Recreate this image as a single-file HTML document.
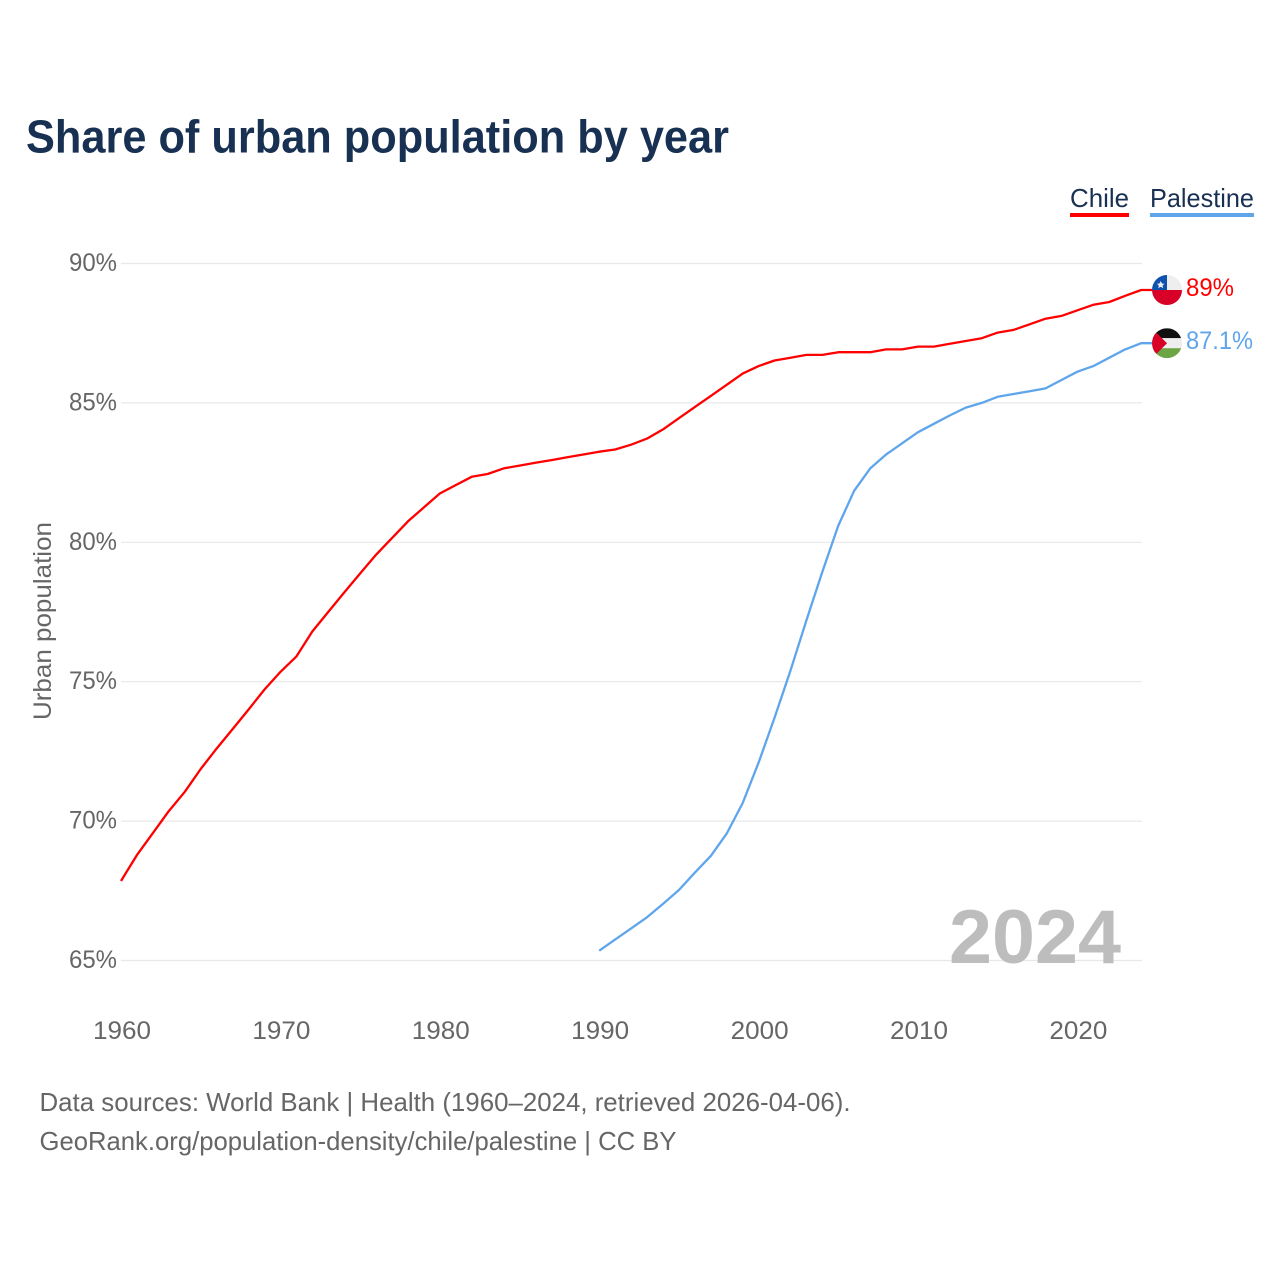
<!DOCTYPE html>
<html lang="en">
<head>
<meta charset="utf-8">
<title>Share of urban population by year</title>
<style>
html,body{margin:0;padding:0;background:#fff}
svg{display:block}
text{font-family:"Liberation Sans",sans-serif}
</style>
</head>
<body>
<svg id="chart" xmlns="http://www.w3.org/2000/svg" width="1280" height="1280" viewBox="0 0 1280 1280">
  <rect x="0" y="0" width="1280" height="1280" fill="#fff"/>
  <text x="26" y="152.5" font-size="46" font-weight="700" fill="#183153" textLength="703" lengthAdjust="spacingAndGlyphs">Share of urban population by year</text>
  <g>
    <text x="1070" y="207" font-size="26" fill="#183153" textLength="59" lengthAdjust="spacingAndGlyphs">Chile</text>
    <rect x="1070" y="213" width="59" height="4" fill="#ff0000"/>
  </g>
  <g>
    <text x="1150" y="207" font-size="26" fill="#183153" textLength="104" lengthAdjust="spacingAndGlyphs">Palestine</text>
    <rect x="1150" y="213" width="104" height="4" fill="#5fa5ec"/>
  </g>
  <g id="grid"></g>
  <g id="yticks"></g>
  <g id="xticks"></g>
  <text transform="translate(51,621) rotate(-90)" text-anchor="middle" font-size="25" fill="#666" textLength="198" lengthAdjust="spacingAndGlyphs">Urban population</text>
  <text x="949" y="963" font-size="76" font-weight="700" fill="#bdbdbd" textLength="172" lengthAdjust="spacingAndGlyphs">2024</text>
  <g id="series"></g>
  <defs>
    <clipPath id="flag-clip"><circle cx="0" cy="0" r="15"/></clipPath>
  </defs>
  <g id="flag-chile">
    <g clip-path="url(#flag-clip)">
      <rect x="-15" y="-15" width="30" height="15" fill="#eeeeee"/>
      <rect x="-15" y="-15" width="15" height="15" fill="#0f52ae"/>
      <rect x="-15" y="0" width="30" height="15" fill="#d80027"/>
      <polygon transform="translate(1.2,2)" points="-7.5,-11 -6.3,-8.5 -3.8,-8.3 -5.6,-6.5 -5.1,-3.9 -7.5,-5.2 -9.9,-3.9 -9.4,-6.5 -11.2,-8.3 -8.7,-8.5" fill="#eeeeee"/>
    </g>
  </g>
  <g id="flag-palestine">
    <g clip-path="url(#flag-clip)">
      <rect x="-15" y="-15" width="30" height="10" fill="#111111"/>
      <rect x="-15" y="-5" width="30" height="10" fill="#eeeeee"/>
      <rect x="-15" y="5" width="30" height="10" fill="#6da544"/>
      <polygon points="-15,-15 0,0 -15,15" fill="#d80027"/>
    </g>
  </g>
  <text id="value-chile" x="1186" font-size="25" fill="#ff0000" textLength="48" lengthAdjust="spacingAndGlyphs"></text>
  <text id="value-palestine" x="1186" font-size="25" fill="#5fa5ec" textLength="67" lengthAdjust="spacingAndGlyphs"></text>
  <text x="39.5" y="1111" font-size="26" fill="#666" textLength="811" lengthAdjust="spacingAndGlyphs">Data sources: World Bank | Health (1960–2024, retrieved 2026-04-06).</text>
  <text x="39.5" y="1150" font-size="26" fill="#666" textLength="637" lengthAdjust="spacingAndGlyphs">GeoRank.org/population-density/chile/palestine | CC BY</text>
</svg>
<script>
const chileStartYear = 1960;
const chileValues = [67.85,68.78,69.57,70.36,71.05,71.87,72.6,73.3,74.0,74.72,75.35,75.9,76.8,77.5,78.2,78.88,79.55,80.15,80.75,81.25,81.75,82.05,82.35,82.45,82.65,82.75,82.85,82.95,83.05,83.15,83.25,83.33,83.5,83.72,84.05,84.45,84.85,85.25,85.65,86.05,86.32,86.52,86.62,86.72,86.72,86.82,86.82,86.82,86.92,86.92,87.02,87.02,87.12,87.22,87.32,87.52,87.62,87.82,88.02,88.12,88.32,88.52,88.62,88.84,89.05];
const palestineStartYear = 1990;
const palestineValues = [65.35,65.75,66.15,66.55,67.03,67.53,68.15,68.75,69.55,70.65,72.1,73.7,75.4,77.2,78.95,80.6,81.85,82.65,83.15,83.55,83.95,84.25,84.55,84.83,85.0,85.22,85.32,85.42,85.52,85.82,86.12,86.32,86.62,86.92,87.14];
const yTickValues = [65,70,75,80,85,90];
const xTickYears = [1960,1970,1980,1990,2000,2010,2020];
const chileEndLabel = "89%";
const palestineEndLabel = "87.1%";

const SVG_NS = "http://www.w3.org/2000/svg";
function xScale(year){ return 121 + (year - 1960) * 15.94; }
function yScale(v){ return 263.5 + (90 - v) * 27.88; }

const grid = document.getElementById("grid");
const yticks = document.getElementById("yticks");
const xticks = document.getElementById("xticks");
const series = document.getElementById("series");

yTickValues.forEach(function(v){
  const line = document.createElementNS(SVG_NS, "line");
  
  
  line.setAttribute("x1", 121);
  line.setAttribute("x2", 1142);
  line.setAttribute("y1", yScale(v));
  line.setAttribute("y2", yScale(v));
  line.setAttribute("stroke", "#e8e8e8");
  line.setAttribute("stroke-width", 1.2);
  grid.appendChild(line);

  const t = document.createElementNS(SVG_NS, "text");
  
  
  t.setAttribute("x", 69);
  t.setAttribute("y", yScale(v) + 7.5);
  t.setAttribute("font-size", 25);
  t.setAttribute("fill", "#666");
  t.setAttribute("textLength", 48);
  t.setAttribute("lengthAdjust", "spacingAndGlyphs");
  t.textContent = v + "%";
  yticks.appendChild(t);
});

xTickYears.forEach(function(y){
  const t = document.createElementNS(SVG_NS, "text");
  
  
  t.setAttribute("x", xScale(y) - 28);
  t.setAttribute("y", 1039);
  t.setAttribute("font-size", 25);
  t.setAttribute("fill", "#666");
  t.setAttribute("textLength", 58);
  t.setAttribute("lengthAdjust", "spacingAndGlyphs");
  t.textContent = y;
  xticks.appendChild(t);
});

function linePoints(values, startYear){
  return values.map(function(v, i){
    return xScale(startYear + i).toFixed(1) + "," + yScale(v).toFixed(1);
  });
}

const chileLine = document.createElementNS(SVG_NS, "polyline");


const chileLast = chileValues[chileValues.length - 1];
chileLine.setAttribute("points", linePoints(chileValues, chileStartYear).concat([(xScale(2024) + 12) + "," + yScale(chileLast).toFixed(1)]).join(" "));
chileLine.setAttribute("fill", "none");
chileLine.setAttribute("stroke", "#ff0000");
chileLine.setAttribute("stroke-width", 2.3);
chileLine.setAttribute("stroke-linejoin", "round");
series.appendChild(chileLine);

const palestineLine = document.createElementNS(SVG_NS, "polyline");


const palestineLast = palestineValues[palestineValues.length - 1];
palestineLine.setAttribute("points", linePoints(palestineValues, palestineStartYear).concat([(xScale(2024) + 12) + "," + yScale(palestineLast).toFixed(1)]).join(" "));
palestineLine.setAttribute("fill", "none");
palestineLine.setAttribute("stroke", "#5fa5ec");
palestineLine.setAttribute("stroke-width", 2.3);
palestineLine.setAttribute("stroke-linejoin", "round");
series.appendChild(palestineLine);

document.getElementById("flag-chile").setAttribute("transform", "translate(1167," + yScale(chileLast).toFixed(1) + ")");
document.getElementById("flag-palestine").setAttribute("transform", "translate(1167," + yScale(palestineLast).toFixed(1) + ")");
const chileLabel = document.getElementById("value-chile");
chileLabel.setAttribute("y", yScale(chileLast) + 6);
chileLabel.textContent = chileEndLabel;
const palestineLabel = document.getElementById("value-palestine");
palestineLabel.setAttribute("y", yScale(palestineLast) + 6);
palestineLabel.textContent = palestineEndLabel;
</script>
</body>
</html>
